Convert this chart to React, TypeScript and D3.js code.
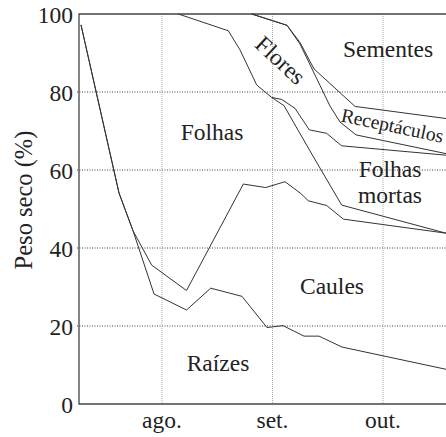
import * as d3 from "d3"

// eixo x em meses (1 = ago., 2 = set., 3 = out.)
const mesTicks = [1, 2, 3]
const mesLabels = ["ago.", "set.", "out."]
const pesoTicks = [0, 20, 40, 60, 80, 100]

// limites acumulados (% do peso seco)
const raizesMes = [0.267, 0.611, 0.738, 0.928, 1.222, 1.441, 1.724, 1.95, 2.095, 2.285, 2.421, 2.629, 3.57]
const raizesTopo = [97.2, 54.1, 44.4, 28.2, 24.1, 29.7, 27.6, 19.6, 20.1, 17.4, 17.4, 14.6, 8.9]

const caulesMes = [0.267, 0.611, 0.738, 0.907, 1.222, 1.736, 1.938, 2.113, 2.255, 2.324, 2.49, 2.641, 3.57]
const caulesTopo = [97.2, 54.1, 44.4, 35.6, 29.1, 56.4, 55.5, 57.0, 54.0, 52.1, 50.9, 47.4, 43.8]

const folhasMes = [1.148, 1.6, 1.706, 1.857, 1.993, 2.104, 2.339, 2.626, 3.57]
const folhasTopo = [100, 95.7, 90.8, 81.8, 78.6, 76.5, 64.9, 51.0, 43.8]

const mortasMes = [1.993, 2.083, 2.204, 2.333, 2.49, 2.626, 3.57]
const mortasTopo = [78.6, 78.1, 75.8, 70.3, 69.4, 66.2, 63.8]

const floresMes = [1.812, 2.131, 2.249, 2.394, 2.52, 2.611, 2.756, 3.57]
const floresTopo = [100, 97.1, 92.3, 83.8, 76.4, 72.3, 69.0, 64.2]

const receptMes = [1.812, 2.131, 2.249, 2.376, 2.747, 3.57]
const receptTopo = [100, 97.1, 92.7, 85.9, 76.3, 73.2]

const series = [
  [raizesMes, raizesTopo],
  [caulesMes, caulesTopo],
  [folhasMes, folhasTopo],
  [mortasMes, mortasTopo],
  [floresMes, floresTopo],
  [receptMes, receptTopo],
]

const W = 446
const H = 437
const left = 79
const right = 446
const top = 14
const bottom = 404
const font = '"Liberation Serif", "DejaVu Serif", serif'

function Label({ x, y, angle = 0, size = 23.5, anchor = "middle", children }: any) {
  return (
    <text
      transform={`translate(${x},${y})${angle ? ` rotate(${angle})` : ""}`}
      textAnchor={anchor}
      fontSize={size}
      fill="#222"
    >
      {children}
    </text>
  )
}

export default function App() {
  const x = d3.scaleLinear().domain([0.249, 3.57]).range([left, right])
  const y = d3.scaleLinear().domain([0, 100]).range([bottom, top])

  const line = d3
    .line<[number, number]>()
    .x((d) => x(d[0]))
    .y((d) => y(d[1]))

  return (
    <svg
      width={W}
      height={H}
      viewBox={`0 0 ${W} ${H}`}
      style={{ position: "absolute", left: 0, top: 0, display: "block", background: "#fff", fontFamily: font }}
    >
      {/* grade */}
      {pesoTicks.slice(1, -1).map((t) => (
        <line key={t} x1={left - 2} x2={right} y1={y(t)} y2={y(t)} stroke="#444" strokeWidth={1} strokeDasharray="1,1.5" />
      ))}
      {mesTicks.map((t) => (
        <line key={t} x1={x(t)} x2={x(t)} y1={top} y2={bottom} stroke="#aaa" strokeWidth={1} strokeDasharray="1,1" />
      ))}

      {/* moldura */}
      <path d={`M${right + 2},${top}H${left}V${bottom}H${right + 2}`} fill="none" stroke="#444" strokeWidth={1.3} />

      {series.map(([ms, vs], i) => (
        <path
          key={i}
          d={line(ms.map((m, j) => [m, vs[j]] as [number, number])) ?? ""}
          fill="none"
          stroke="#333"
          strokeWidth={1}
        />
      ))}

      {/* eixos */}
      {pesoTicks.map((t) => (
        <Label key={t} x={73} y={y(t) + 9} anchor="end">
          {t}
        </Label>
      ))}
      {mesTicks.map((t, i) => (
        <Label key={t} x={x(t)} y={428}>
          {mesLabels[i]}
        </Label>
      ))}
      <Label x={32} y={200} angle={-90} size={24.5}>
        Peso seco (%)
      </Label>

      {/* rótulos */}
      <Label x={388} y={57}>Sementes</Label>
      <Label x={275} y={66} angle={43}>Flores</Label>
      <Label x={212} y={140}>Folhas</Label>
      <Label x={390} y={177}>Folhas</Label>
      <Label x={390} y={203}>mortas</Label>
      <Label x={332} y={294}>Caules</Label>
      <Label x={218} y={371}>Raízes</Label>
      <Label x={391} y={132} angle={12} size={19.5}>Receptáculos</Label>
    </svg>
  )
}
